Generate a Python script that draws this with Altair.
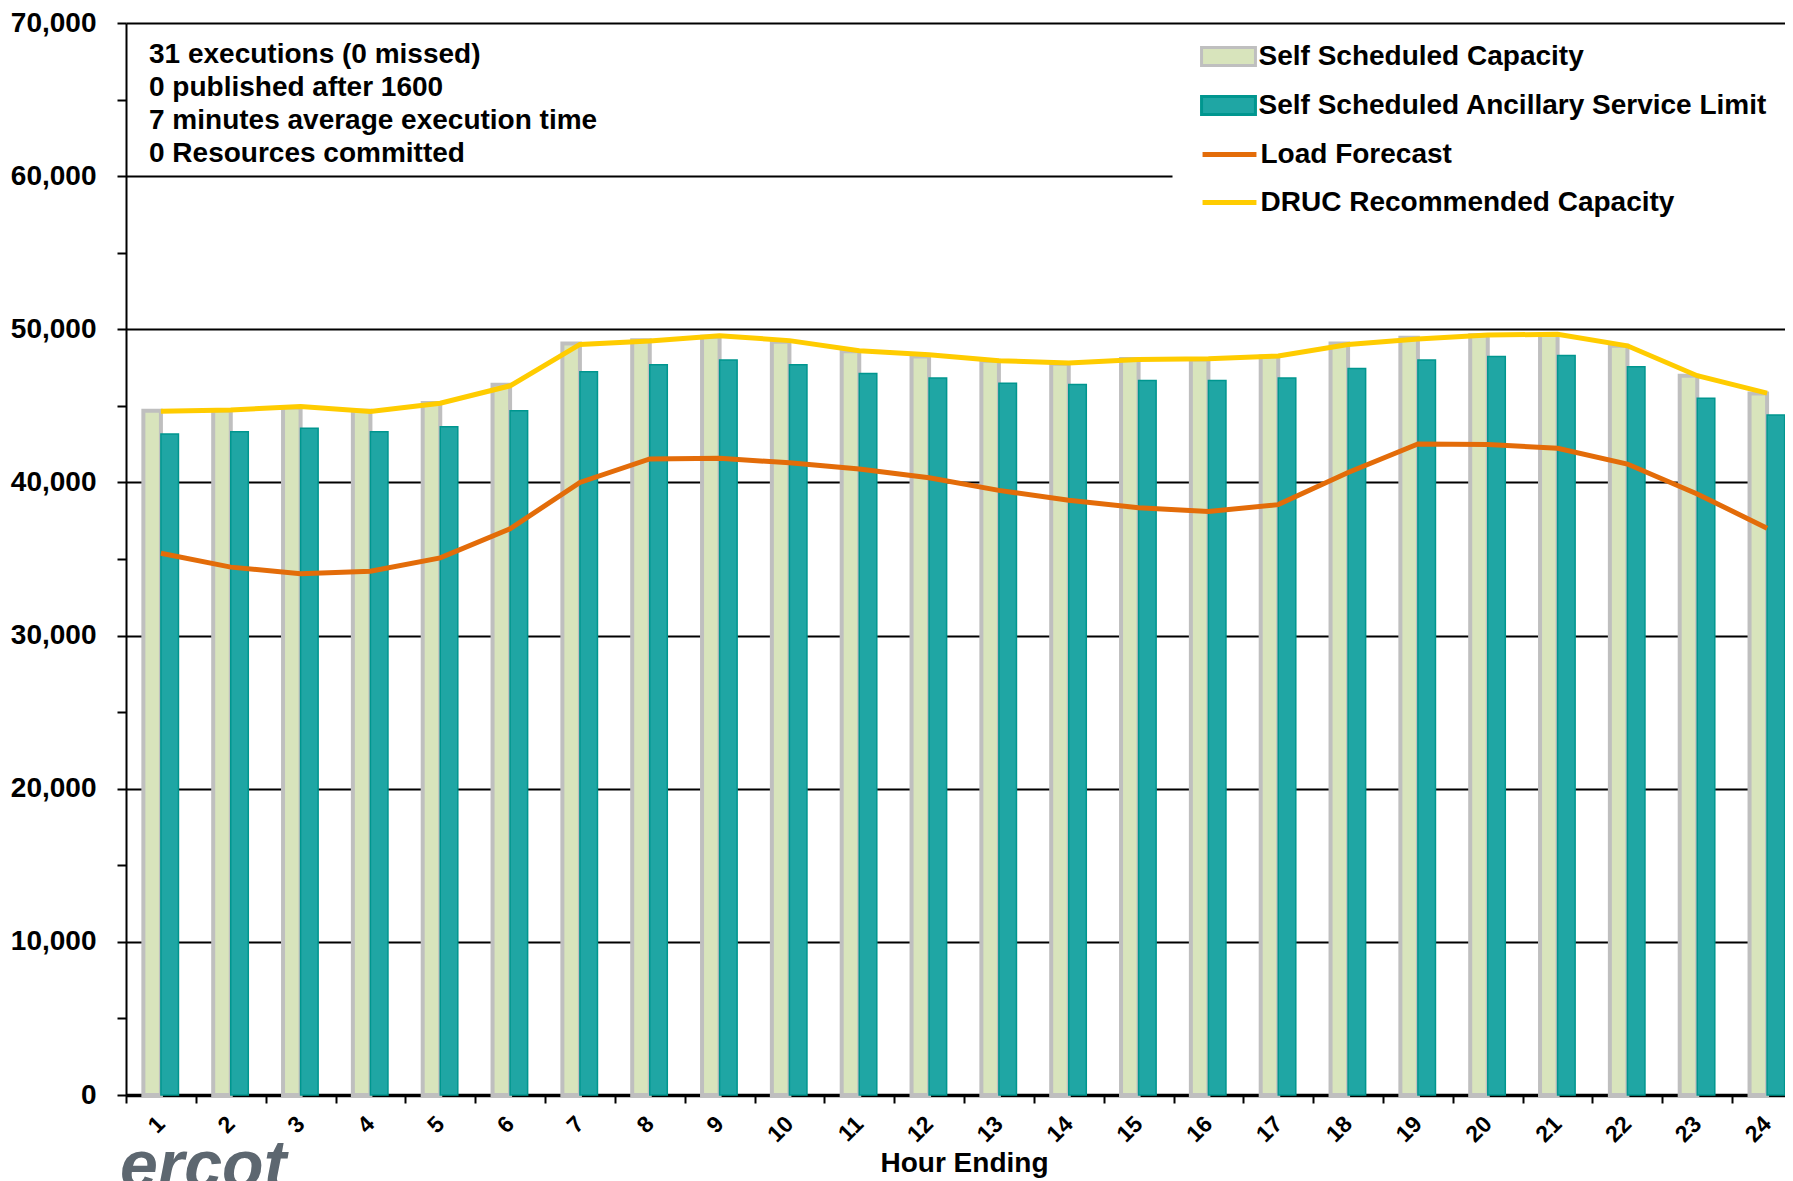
import altair as alt
import pandas as pd

# ---------------- data ----------------
hours = list(range(1, 25))
series_bar = ["Self Scheduled Capacity", "Self Scheduled Ancillary Service Limit"]
series_line = ["Load Forecast", "DRUC Recommended Capacity"]

ssc = [44680, 44700, 44900, 44680, 45190, 46380, 49070, 49290, 49510, 49180, 48560, 48230,
       47950, 47750, 48060, 48020, 48220, 49070, 49450, 49610, 49690, 48920, 46970, 45810]
ssasl = [43160, 43310, 43530, 43310, 43640, 44680, 47230, 47680, 48000, 47690, 47120, 46820,
         46470, 46400, 46650, 46650, 46820, 47440, 47990, 48230, 48290, 47550, 45490, 44400]
load = [35380, 34470, 34030, 34200, 35070, 36970, 40000, 41530, 41580, 41280, 40870, 40300,
        39480, 38830, 38350, 38110, 38550, 40650, 42510, 42470, 42230, 41200, 39250, 37010]
druc = [44640, 44730, 44950, 44640, 45170, 46310, 49010, 49240, 49580, 49260, 48600, 48330,
        47950, 47800, 48030, 48070, 48260, 49010, 49370, 49620, 49680, 48920, 46970, 45830]

notes = ["31 executions (0 missed)", "0 published after 1600",
         "7 minutes average execution time", "0 Resources committed"]
y_ticks = list(range(0, 70001, 5000))

ssc_df = pd.DataFrame({"hour": hours, "value": ssc, "series": series_bar[0]})
asl_df = pd.DataFrame({"hour": hours, "value": ssasl, "series": series_bar[1]})
line_df = pd.concat([
    pd.DataFrame({"hour": hours, "value": load, "series": series_line[0]}),
    pd.DataFrame({"hour": hours, "value": druc, "series": series_line[1]}),
], ignore_index=True)

# ---------------- style ----------------
FONT = "Liberation Sans"
W, H = 1659, 1072
X_RANGE = 1676

x_scale = alt.Scale(range=[0, X_RANGE], paddingInner=0, paddingOuter=0)
y_scale = alt.Scale(domain=[0, 70000], nice=False)

x_axis = alt.Axis(
    title="Hour Ending", titleFont=FONT, titleFontSize=28, titleFontWeight="bold",
    titleColor="black", titleX=838, titlePadding=3,
    labelFont=FONT, labelFontSize=23, labelFontWeight="bold", labelColor="black",
    labelAngle=315, labelAlign="right", labelBaseline="middle", labelPadding=17,
    tickBand="extent", tickSize=8, tickColor="black", tickWidth=2,
    domainColor="black", domainWidth=3.5, grid=False,
)
y_axis = alt.Axis(
    title=None, values=y_ticks,
    labelExpr="datum.value % 10000 === 0 ? format(datum.value, ',') : ''",
    labelFont=FONT, labelFontSize=28, labelFontWeight="bold", labelColor="black",
    labelPadding=21, tickSize=9, tickColor="black", tickWidth=2,
    domainColor="black", domainWidth=2,
    grid=True, gridColor="black", gridWidth=2,
    gridOpacity={"condition": {"test": "datum.value % 10000 === 0", "value": 1}, "value": 0},
    gridDash={"condition": {"test": "datum.value === 60000", "value": [1046, 4000]}, "value": []},
)

rect_path = "M-1.1,-0.37H1.1V0.37H-1.1Z"
line_path = "M-1.1,0H1.1"

bar_legend = alt.Legend(
    orient="none", legendX=1076.5, legendY=7.5, padding=0, zindex=2,
    symbolType=rect_path, symbolSize=2401, symbolStrokeWidth=3, symbolOpacity=1,
    labelFont=FONT, labelFontSize=28, labelFontWeight="bold", labelColor="black",
    labelLimit=2000, labelOffset=4, rowPadding=7,
)
line_legend = alt.Legend(
    orient="none", legendX=1076.5, legendY=104.5, padding=0, zindex=1,
    symbolType=line_path, symbolSize=2401, symbolStrokeWidth=5,
    labelFont=FONT, labelFontSize=28, labelFontWeight="bold", labelColor="black",
    labelLimit=2000, labelOffset=4, rowPadding=7,
)

def bar_encoding():
    return dict(
        x=alt.X("hour:O", scale=x_scale, axis=x_axis),
        xOffset=alt.XOffset("series:N", scale=alt.Scale(domain=series_bar, paddingInner=0, paddingOuter=0.99)),
        y=alt.Y("value:Q", scale=y_scale, axis=y_axis),
        fill=alt.Fill("series:N", title=None,
                      scale=alt.Scale(domain=series_bar, range=["#d8e4bc", "#1fa6a4"]),
                      legend=bar_legend),
        stroke=alt.Stroke("series:N", title=None,
                          scale=alt.Scale(domain=series_bar, range=["#bfbfbf", "#00968f"]),
                          legend=bar_legend),
    )

bars_ssc = alt.Chart(ssc_df).mark_bar(strokeWidth=4, xOffset=4.5).encode(**bar_encoding())
bars_asl = alt.Chart(asl_df).mark_bar(strokeWidth=1.5, xOffset=4.5).encode(**bar_encoding())

lines = alt.Chart(line_df).mark_line(strokeWidth=5).encode(
    x=alt.X("hour:O", scale=x_scale, axis=x_axis),
    y=alt.Y("value:Q", scale=y_scale, axis=y_axis),
    color=alt.Color("series:N", title=None,
                    scale=alt.Scale(domain=series_line, range=["#e36c09", "#ffcc00"]),
                    legend=line_legend),
)

notes_text = alt.Chart(pd.DataFrame({"k": [0]})).mark_text(
    align="left", baseline="middle", font=FONT, fontSize=28, fontWeight="bold",
    lineHeight=33, color="black",
).encode(x=alt.value(23), y=alt.value(32), text=alt.value(notes))

logo = alt.Chart(pd.DataFrame({"k": [0]})).mark_text(
    align="left", baseline="alphabetic", font=FONT, fontSize=68, fontStyle="italic",
    fontWeight="bold", color="#5d6770",
).encode(x=alt.value(-6), y=alt.value(1165), text=alt.value("ercot"))

chart = alt.layer(bars_ssc, bars_asl, lines, notes_text, logo).properties(
    width=W, height=H,
    autosize=alt.AutoSizeParams(type="none"),
    padding={"left": 118, "top": 15, "right": 0, "bottom": 86},
).configure_view(stroke=None)

chart.save("out.html", embed_options={"renderer": "svg", "actions": False})
